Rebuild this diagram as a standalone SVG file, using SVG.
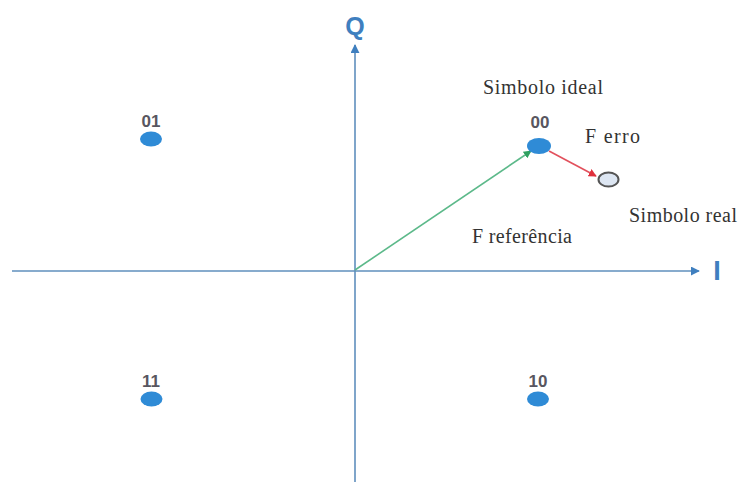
<svg xmlns="http://www.w3.org/2000/svg" width="739" height="484" viewBox="0 0 739 484">
<defs>
<style>
.axis{stroke:#5f8fbd;stroke-width:1.6;fill:none}
.dot{fill:#2f8bd6}
.lbl{font-family:"Liberation Sans",Arial,sans-serif;font-weight:bold;font-size:17px;fill:#585660;text-anchor:middle}
.axl{font-family:"Liberation Sans",Arial,sans-serif;font-weight:bold;fill:#3f7fbf;text-anchor:middle}
.txt{font-family:"Liberation Serif","Times New Roman",serif;font-size:20px;fill:#333}
</style>
<marker id="ab" viewBox="0 0 10 10" refX="9" refY="5" markerWidth="9" markerHeight="9" markerUnits="userSpaceOnUse" orient="auto"><path d="M0,0 L10,5 L0,10 z" fill="#3f7fbf"/></marker>
<marker id="ag" viewBox="0 0 10 10" refX="9" refY="5" markerWidth="8" markerHeight="8" markerUnits="userSpaceOnUse" orient="auto"><path d="M0,0 L10,5 L0,10 z" fill="#2fa060"/></marker>
<marker id="ar" viewBox="0 0 10 10" refX="9" refY="5" markerWidth="8" markerHeight="8" markerUnits="userSpaceOnUse" orient="auto"><path d="M0,0 L10,5 L0,10 z" fill="#e0303c"/></marker>
</defs>
<rect width="739" height="484" fill="#fff"/>
<g id="connectors">
<line class="axis" x1="12" y1="271" x2="699" y2="271" marker-end="url(#ab)"/>
<line class="axis" x1="355" y1="482" x2="355" y2="45" marker-end="url(#ab)"/>
<line x1="355" y1="270" x2="531" y2="151" stroke="#5cb98a" stroke-width="1.6" marker-end="url(#ag)"/>
<line x1="549" y1="151" x2="596" y2="176" stroke="#e2505c" stroke-width="1.6" marker-end="url(#ar)"/>
</g>
<g id="axis-q"><text class="axl" x="355" y="35" font-size="25">Q</text></g>
<g id="axis-i"><text class="axl" x="717" y="280" font-size="27">I</text></g>
<g id="s01"><text class="lbl" x="151" y="127">01</text><ellipse class="dot" cx="151" cy="139" rx="11" ry="7.5"/></g>
<g id="s11"><text class="lbl" x="151" y="387">11</text><ellipse class="dot" cx="151.5" cy="399" rx="11" ry="7.5"/></g>
<g id="s10"><text class="lbl" x="538" y="387">10</text><ellipse class="dot" cx="538" cy="399" rx="11" ry="7.5"/></g>
<g id="s00"><text class="lbl" x="540" y="128">00</text><ellipse class="dot" cx="539" cy="146" rx="12" ry="8"/></g>
<g id="sreal"><ellipse cx="608.5" cy="179.5" rx="10" ry="7" fill="#dde6f2" stroke="#555" stroke-width="2"/></g>
<g id="t-ideal"><text class="txt" x="483" y="94" textLength="120" lengthAdjust="spacing">Simbolo ideal</text></g>
<g id="t-erro"><text class="txt" x="585" y="143" textLength="55" lengthAdjust="spacing">F erro</text></g>
<g id="t-real"><text class="txt" x="629" y="222" textLength="108" lengthAdjust="spacing">Simbolo real</text></g>
<g id="t-ref"><text class="txt" x="472" y="243" textLength="100" lengthAdjust="spacing">F referência</text></g>
</svg>
